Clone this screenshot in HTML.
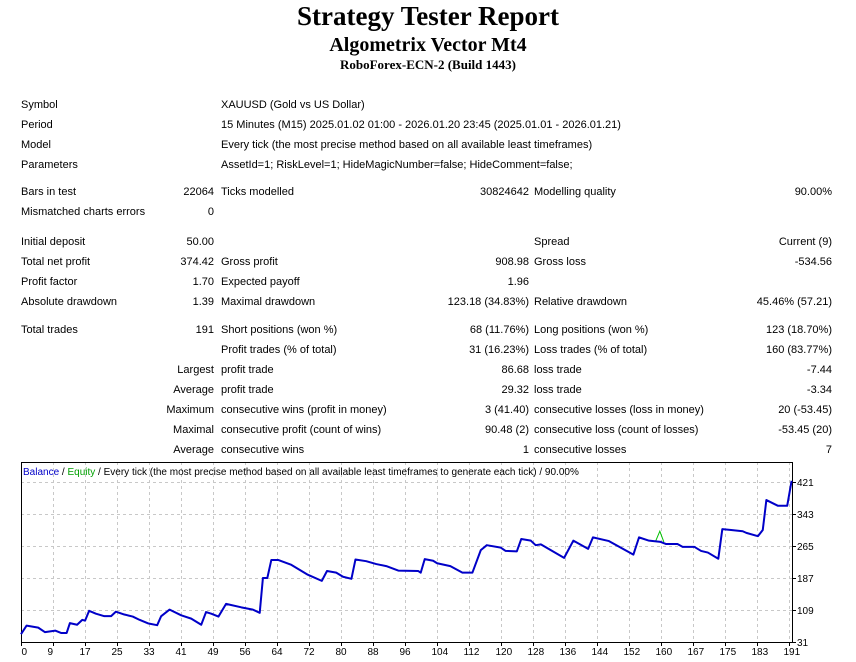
<!DOCTYPE html>
<html><head><meta charset="utf-8"><style>
body{margin:0;width:856px;height:662px;background:#fff;position:relative;overflow:hidden;font-family:"Liberation Sans",sans-serif;color:#000}
.t{position:absolute;font-family:"Liberation Serif",serif;font-weight:bold;left:0;width:856px;text-align:center;white-space:nowrap}
.c{position:absolute;font-size:11px;line-height:14px;white-space:nowrap}
.r{text-align:right}
</style></head><body>
<div class="t" style="top:0px;font-size:27px;line-height:32px">Strategy Tester Report</div>
<div class="t" style="top:33px;font-size:20px;line-height:24px">Algometrix Vector Mt4</div>
<div class="t" style="top:57px;font-size:13px;line-height:16px">RoboForex-ECN-2 (Build 1443)</div>
<div id="tbl"></div>
<svg id="chart" width="856" height="662" style="position:absolute;left:0;top:0"></svg>
<script>
const rows=[
[103,["Symbol","XAUUSD (Gold vs US Dollar)"],"full"],
[123,["Period","15 Minutes (M15) 2025.01.02 01:00 - 2026.01.20 23:45 (2025.01.01 - 2026.01.21)"],"full"],
[143,["Model","Every tick (the most precise method based on all available least timeframes)"],"full"],
[163,["Parameters","AssetId=1; RiskLevel=1; HideMagicNumber=false; HideComment=false;"],"full"],
[190,["Bars in test","22064","Ticks modelled","30824642","Modelling quality","90.00%"]],
[210,["Mismatched charts errors","0"]],
[240,["Initial deposit","50.00","","","Spread","Current (9)"]],
[260,["Total net profit","374.42","Gross profit","908.98","Gross loss","-534.56"]],
[280,["Profit factor","1.70","Expected payoff","1.96"]],
[300,["Absolute drawdown","1.39","Maximal drawdown","123.18 (34.83%)","Relative drawdown","45.46% (57.21)"]],
[328,["Total trades","191","Short positions (won %)","68 (11.76%)","Long positions (won %)","123 (18.70%)"]],
[348,["","","Profit trades (% of total)","31 (16.23%)","Loss trades (% of total)","160 (83.77%)"]],
[368,["","Largest","profit trade","86.68","loss trade","-7.44"]],
[388,["","Average","profit trade","29.32","loss trade","-3.34"]],
[408,["","Maximum","consecutive wins (profit in money)","3 (41.40)","consecutive losses (loss in money)","20 (-53.45)"]],
[428,["","Maximal","consecutive profit (count of wins)","90.48 (2)","consecutive loss (count of losses)","-53.45 (20)"]],
[448,["","Average","consecutive wins","1","consecutive losses","7"]]
];
const tbl=document.getElementById('tbl');
const cols=[[21,'l'],[214,'r'],[221,'l'],[529,'r'],[534,'l'],[832,'r']];
rows.forEach(([y,cells,full])=>{
 cells.forEach((txt,i)=>{
  if(!txt)return;
  const d=document.createElement('div');
  
  
  let x=full&&i==1?221:cols[i][0];
  d.className='c'+(cols[i][1]=='r'&&!full?' r':'');
  d.style.top=(y-5)+'px';
  if(cols[i][1]=='r'&&!full){d.style.left=(x-300)+'px';d.style.width='300px';}
  else d.style.left=x+'px';
  d.textContent=txt;
  tbl.appendChild(d);
 });
});
</script>
<script>
// chart data
const tradeIdx=[0,1.4,4.3,6,8.6,10,11.4,12.2,14,15.3,16,17,18.7,20.8,22.5,23.7,25.8,27.9,29.6,31.7,34,35,37.1,40,42.5,45,46.2,47.5,49.3,51.2,55,57.9,59.6,60.4,61.5,62.5,64.2,67.5,71.6,75.1,76.4,78.7,80.4,82.5,83.5,86.2,88.7,91.2,94.2,99.2,99.8,100.8,102.9,103.9,107.2,110.2,112.7,114.8,116.3,119.8,121,123.8,124.9,127.3,128.5,129.8,135.6,137.9,141.6,142.8,146.8,152.9,154.3,156.8,159.7,161,163.9,165.2,168.1,169.8,171.5,174.1,175.1,177.3,180.2,181.1,184,185.2,186.1,189,191.3,192.4];
const balance=[50,71,66,55,58.6,53,53,77,73,85,83,107,100,94,94,105,98,93,85,76.5,72,94,110,96,88,73,104,100,93,124,115.5,110,102,187,187,231,231,219,195,180,204,200,190,185,232,228,221,216,205,204,200,233,229,223,216,200,200,255,267,261,253,252,282,278,267,269,236,278,258,286,277,244,286,278,275,270,270,263,263,253,249,234,306,304,301,297,289,304,377,363,363,424];
const eqIdx=[158.5,159.5,160.5];
const equity=[278,301,275];
const yTicks=[31,109,187,265,343,421];
const xLabels=["0","9","17","25","33","41","49","56","64","72","80","88","96","104","112","120","128","136","144","152","160","167","175","183","191"];
const L=21,R=792,T=462,B=642,yMin=31,yMax=421,xMax=192.5;
const sx=i=>L+i*(R-L)/xMax;
const sy=v=>B-(v-yMin)*(B-482)/(yMax-yMin);
const svg=document.getElementById('chart');
const NS='http://www.w3.org/2000/svg';
function mk(tag,attrs,name){const e=document.createElementNS(NS,tag);for(const k in attrs)e.setAttribute(k,attrs[k]);


svg.appendChild(e);return e;}
mk('rect',{x:L,y:T,width:R-L,height:B-T,fill:'#fff',stroke:'none'},'plot-area');
yTicks.forEach(v=>{
 mk('line',{x1:L,x2:R,y1:sy(v)+0.5,y2:sy(v)+0.5,stroke:'#c8c8c8','stroke-dasharray':'3,3'},'h-gridline');
 mk('line',{x1:R,x2:R+4,y1:sy(v)+0.5,y2:sy(v)+0.5,stroke:'#000'},'y-tick');
 const t=mk('text',{x:R+5,y:sy(v)+4,'font-size':'10','font-family':'Liberation Sans,sans-serif'},'y-tick-label');t.textContent=v;
});
xLabels.forEach((s,k)=>{
 const x=L+32*k+0.5;
 if(k>0)mk('line',{x1:x,x2:x,y1:T,y2:B,stroke:'#c8c8c8','stroke-dasharray':'3,3'},'v-gridline');
 mk('line',{x1:x,x2:x,y1:B,y2:B+4,stroke:'#000'},'x-tick');
 const t=mk('text',{x:x+(k==0?0:-6),y:B+13,'font-size':'10','font-family':'Liberation Sans,sans-serif'},'x-tick-label');t.textContent=s;
});
mk('rect',{x:L+0.5,y:T+0.5,width:R-L,height:B-T,fill:'none',stroke:'#000'},'plot-border');
mk('polyline',{points:eqIdx.map((i,k)=>sx(i)+','+sy(equity[k])).join(' '),fill:'none',stroke:'#00c000','stroke-width':1},'equity-line');
mk('polyline',{points:tradeIdx.map((i,k)=>sx(i)+','+sy(balance[k])).join(' '),fill:'none',stroke:'#0000c8','stroke-width':2,'stroke-linejoin':'round'},'balance-line');
const lg=mk('text',{x:23,y:475,'font-size':'10','font-family':'Liberation Sans,sans-serif'},'legend');
lg.innerHTML='<tspan fill="#0000c8">Balance</tspan> / <tspan fill="#00a000">Equity</tspan> / Every tick (the most precise method based on all available least timeframes to generate each tick) / 90.00%';
</script>
</body></html>
